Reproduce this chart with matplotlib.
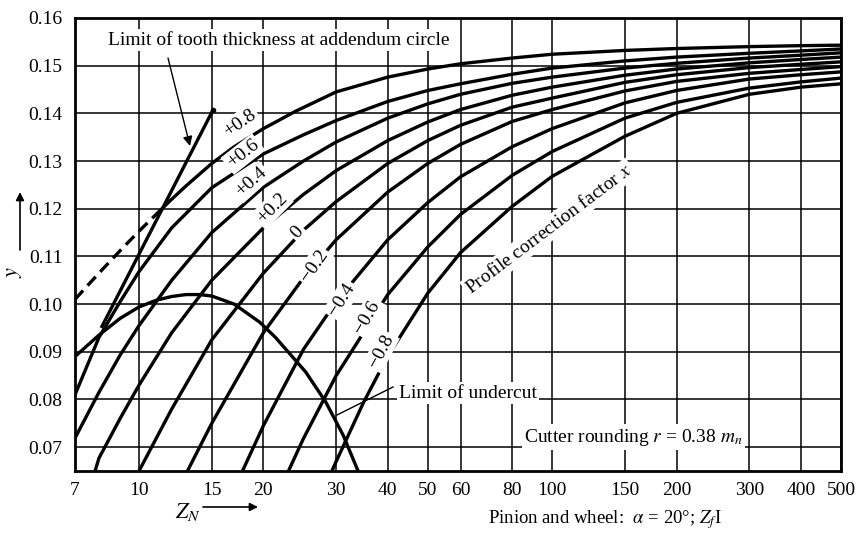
import matplotlib
matplotlib.use("Agg")
import matplotlib.pyplot as plt

plt.rcParams['font.family'] = ['Liberation Serif', 'DejaVu Serif']
plt.rcParams['mathtext.fontset'] = 'stix'

# ---------------- data ----------------
x_ticks = [7, 10, 15, 20, 30, 40, 50, 60, 80, 100, 150, 200, 300, 400, 500]
y_ticks = [0.07, 0.08, 0.09, 0.10, 0.11, 0.12, 0.13, 0.14, 0.15, 0.16]
y_tick_labels = ['0.07', '0.08', '0.09', '0.10', '0.11', '0.12', '0.13', '0.14', '0.15', '0.16']

# profile correction factor x = +0.8 (dashed part ends at the tooth-thickness limit)
z_p08 = [7, 8, 9, 10, 11.3, 12, 13, 15, 17, 20, 24, 30, 40, 50, 60, 80, 100, 150, 200, 300, 400, 500]
y_p08 = [0.1010, 0.1065, 0.1112, 0.1153, 0.1198, 0.1220, 0.1248, 0.1295, 0.1330, 0.1368, 0.1405,
         0.1445, 0.1476, 0.1493, 0.1504, 0.1516, 0.1524, 0.1532, 0.1536, 0.1540, 0.1542, 0.1543]
p08_dash_end = 11.3

z_p06 = [7, 8, 9, 10, 12, 15, 20, 25, 30, 40, 50, 60, 80, 100, 150, 200, 300, 400, 500]
y_p06 = [0.0810, 0.0930, 0.1005, 0.1068, 0.1160, 0.1244, 0.1315, 0.1355, 0.1385, 0.1425, 0.1448,
         0.1462, 0.1482, 0.1495, 0.1510, 0.1518, 0.1526, 0.1531, 0.1535]

z_p04 = [7, 8, 9, 10, 12, 15, 20, 25, 30, 40, 50, 60, 80, 100, 150, 200, 300, 400, 500]
y_p04 = [0.0719, 0.0815, 0.0893, 0.0955, 0.1050, 0.1150, 0.1245, 0.1300, 0.1340, 0.1390, 0.1420,
         0.1440, 0.1463, 0.1476, 0.1495, 0.1505, 0.1516, 0.1522, 0.1527]

z_p02 = [7.83, 8, 9, 10, 12, 15, 20, 25, 30, 40, 50, 60, 80, 100, 150, 200, 300, 400, 500]
y_p02 = [0.065, 0.0677, 0.0760, 0.0830, 0.0940, 0.1050, 0.1160, 0.1230, 0.1280, 0.1343, 0.1382,
         0.1408, 0.1438, 0.1455, 0.1480, 0.1493, 0.1506, 0.1513, 0.1518]

z_00 = [10, 12, 15, 20, 25, 30, 40, 50, 60, 80, 100, 150, 200, 300, 400, 500]
y_00 = [0.065, 0.0780, 0.0925, 0.1065, 0.1155, 0.1215, 0.1295, 0.1343, 0.1375, 0.1413, 0.1432,
        0.1465, 0.1481, 0.1496, 0.1503, 0.1508]

z_m02 = [13.1, 15, 20, 25, 30, 40, 50, 60, 80, 100, 150, 200, 300, 400, 500]
y_m02 = [0.065, 0.0750, 0.0940, 0.1055, 0.1135, 0.1235, 0.1295, 0.1335, 0.1383, 0.1408, 0.1447,
         0.1467, 0.1484, 0.1492, 0.1498]

z_m04 = [17.8, 20, 25, 30, 40, 50, 60, 80, 100, 150, 200, 300, 400, 500]
y_m04 = [0.065, 0.0745, 0.0905, 0.1005, 0.1135, 0.1213, 0.1267, 0.1330, 0.1368, 0.1422, 0.1448,
         0.1472, 0.1481, 0.1487]

z_m06 = [23, 25, 30, 40, 50, 60, 80, 100, 150, 200, 300, 400, 500]
y_m06 = [0.065, 0.0718, 0.0850, 0.1020, 0.1120, 0.1188, 0.1270, 0.1320, 0.1390, 0.1423, 0.1453,
         0.1466, 0.1474]

z_m08 = [29.3, 30, 35, 40, 50, 60, 80, 100, 150, 200, 300, 400, 500]
y_m08 = [0.065, 0.067, 0.0795, 0.0891, 0.1023, 0.1108, 0.1205, 0.1268, 0.1352, 0.1400, 0.1440,
         0.1455, 0.1462]

# limit of undercut
z_undercut = [7, 8, 9, 10, 11, 12, 13, 14, 15, 17, 19.6, 21.4, 25.3, 28.3, 31.2, 33.9]
y_undercut = [0.089, 0.0935, 0.0970, 0.0994, 0.1008, 0.1016, 0.1020, 0.1020, 0.1017, 0.1000,
              0.0962, 0.0930, 0.0858, 0.0795, 0.0725, 0.065]

# limit of tooth thickness at addendum circle
z_thick = [8.1, 15.1]
y_thick = [0.095, 0.1407]

curve_labels = ['+0.8', '+0.6', '+0.4', '+0.2', '0', '\u22120.2', '\u22120.4', '\u22120.6', '\u22120.8']

# ---------------- figure ----------------
W, H = 863, 537
fig = plt.figure(figsize=(W / 100, H / 100), dpi=100)
L, R, T, B = 75, 841, 18, 471
ax = fig.add_axes([L / W, 1 - B / H, (R - L) / W, (B - T) / H])
ax.set_xscale('log')
ax.set_xlim(7, 500)
ax.set_ylim(0.065, 0.16)

ax.xaxis.set_major_locator(plt.FixedLocator(x_ticks))
ax.xaxis.set_minor_locator(plt.NullLocator())
ax.set_xticklabels([str(v) for v in x_ticks])
ax.set_yticks(y_ticks)
ax.set_yticklabels(y_tick_labels)
ax.tick_params(axis='both', which='both', length=0, labelsize=14)
ax.tick_params(axis='x', pad=8)
ax.tick_params(axis='y', pad=9)
ax.grid(True, color='black', lw=1.1)
ax.set_axisbelow(True)
for s in ax.spines.values():
    s.set_linewidth(2.0)

lw = 2.4
kw = dict(color='black', lw=lw, solid_capstyle='butt', zorder=3)

# +0.8 dashed then solid
zd = [z for z in z_p08 if z <= p08_dash_end]
yd = y_p08[:len(zd)]
ax.plot(zd, yd, color='black', lw=lw, dashes=(3.6, 2.0), zorder=3)
ax.plot(z_p08[len(zd) - 1:], y_p08[len(zd) - 1:], **kw)

for zz, yy in [(z_p06, y_p06), (z_p04, y_p04), (z_p02, y_p02), (z_00, y_00), (z_m02, y_m02),
               (z_m04, y_m04), (z_m06, y_m06), (z_m08, y_m08)]:
    ax.plot(zz, yy, **kw)

ax.plot(z_undercut, y_undercut, **kw)
ax.plot(z_thick, y_thick, **kw)
ax.plot([z_thick[-1]], [y_thick[-1]], 'o', color='black', ms=3, zorder=4)


def P(xp, yp):
    """pixel (from top-left) -> data coordinates"""
    return tuple(ax.transData.inverted().transform((xp, H - yp)))


box = dict(boxstyle='square,pad=0.12', fc='white', ec='none')

# curve labels
lab_pos = [(240, 123, 35), (243, 154, 38), (251, 182, 42), (272, 208, 45), (297, 232, 48),
           (314, 266, 55), (342, 300, 58), (367, 317, 60), (381, 351, 62)]
for text, (xp, yp, rot) in zip(curve_labels, lab_pos):
    ax.text(*P(xp, yp), text, fontsize=14, rotation=rot, ha='center', va='center',
            rotation_mode='anchor', bbox=box, zorder=5)

ax.text(*P(279, 40), 'Limit of tooth thickness at addendum circle', fontsize=14,
        ha='center', va='center', bbox=box, zorder=5)
ax.annotate('', xy=P(190, 146), xytext=P(168, 58),
            arrowprops=dict(arrowstyle='-|>', color='black', lw=1.0, mutation_scale=14,
                            shrinkA=0, shrinkB=0), zorder=5)

ax.text(*P(549, 229), 'Profile correction factor $x$', fontsize=14, rotation=37,
        ha='center', va='center', rotation_mode='anchor', bbox=box, zorder=5)

ax.text(*P(399, 393), 'Limit of undercut', fontsize=14, ha='left', va='center',
        bbox=box, zorder=5)
ax.plot(*zip(P(393, 387), P(337, 415)), color='black', lw=1.0, zorder=5)

ax.text(*P(524, 437), 'Cutter rounding $r$ = 0.38 $m_n$', fontsize=14, ha='left',
        va='center', bbox=box, zorder=5)

# axis labels
fig.text(14 / W, 1 - 272 / H, '$y$', fontsize=16, rotation=90, ha='center', va='center')
ax.annotate('', xy=(20, H - 192), xytext=(20, H - 250), xycoords='figure pixels',
            textcoords='figure pixels',
            arrowprops=dict(arrowstyle='-|>', color='black', lw=1.2, mutation_scale=12,
                            shrinkA=0, shrinkB=0))
fig.text(188 / W, 1 - 512 / H, '$Z_N$', fontsize=16, ha='center', va='center')
ax.annotate('', xy=(258, H - 507), xytext=(203, H - 507), xycoords='figure pixels',
            textcoords='figure pixels',
            arrowprops=dict(arrowstyle='-|>', color='black', lw=1.2, mutation_scale=12,
                            shrinkA=0, shrinkB=0))
fig.text(488 / W, 1 - 520 / H, 'Pinion and wheel:  $\\alpha$ = 20\u00b0; $Z_f$I', fontsize=13.5,
         ha='left', va='center')

fig.savefig('out.png', dpi=100)
